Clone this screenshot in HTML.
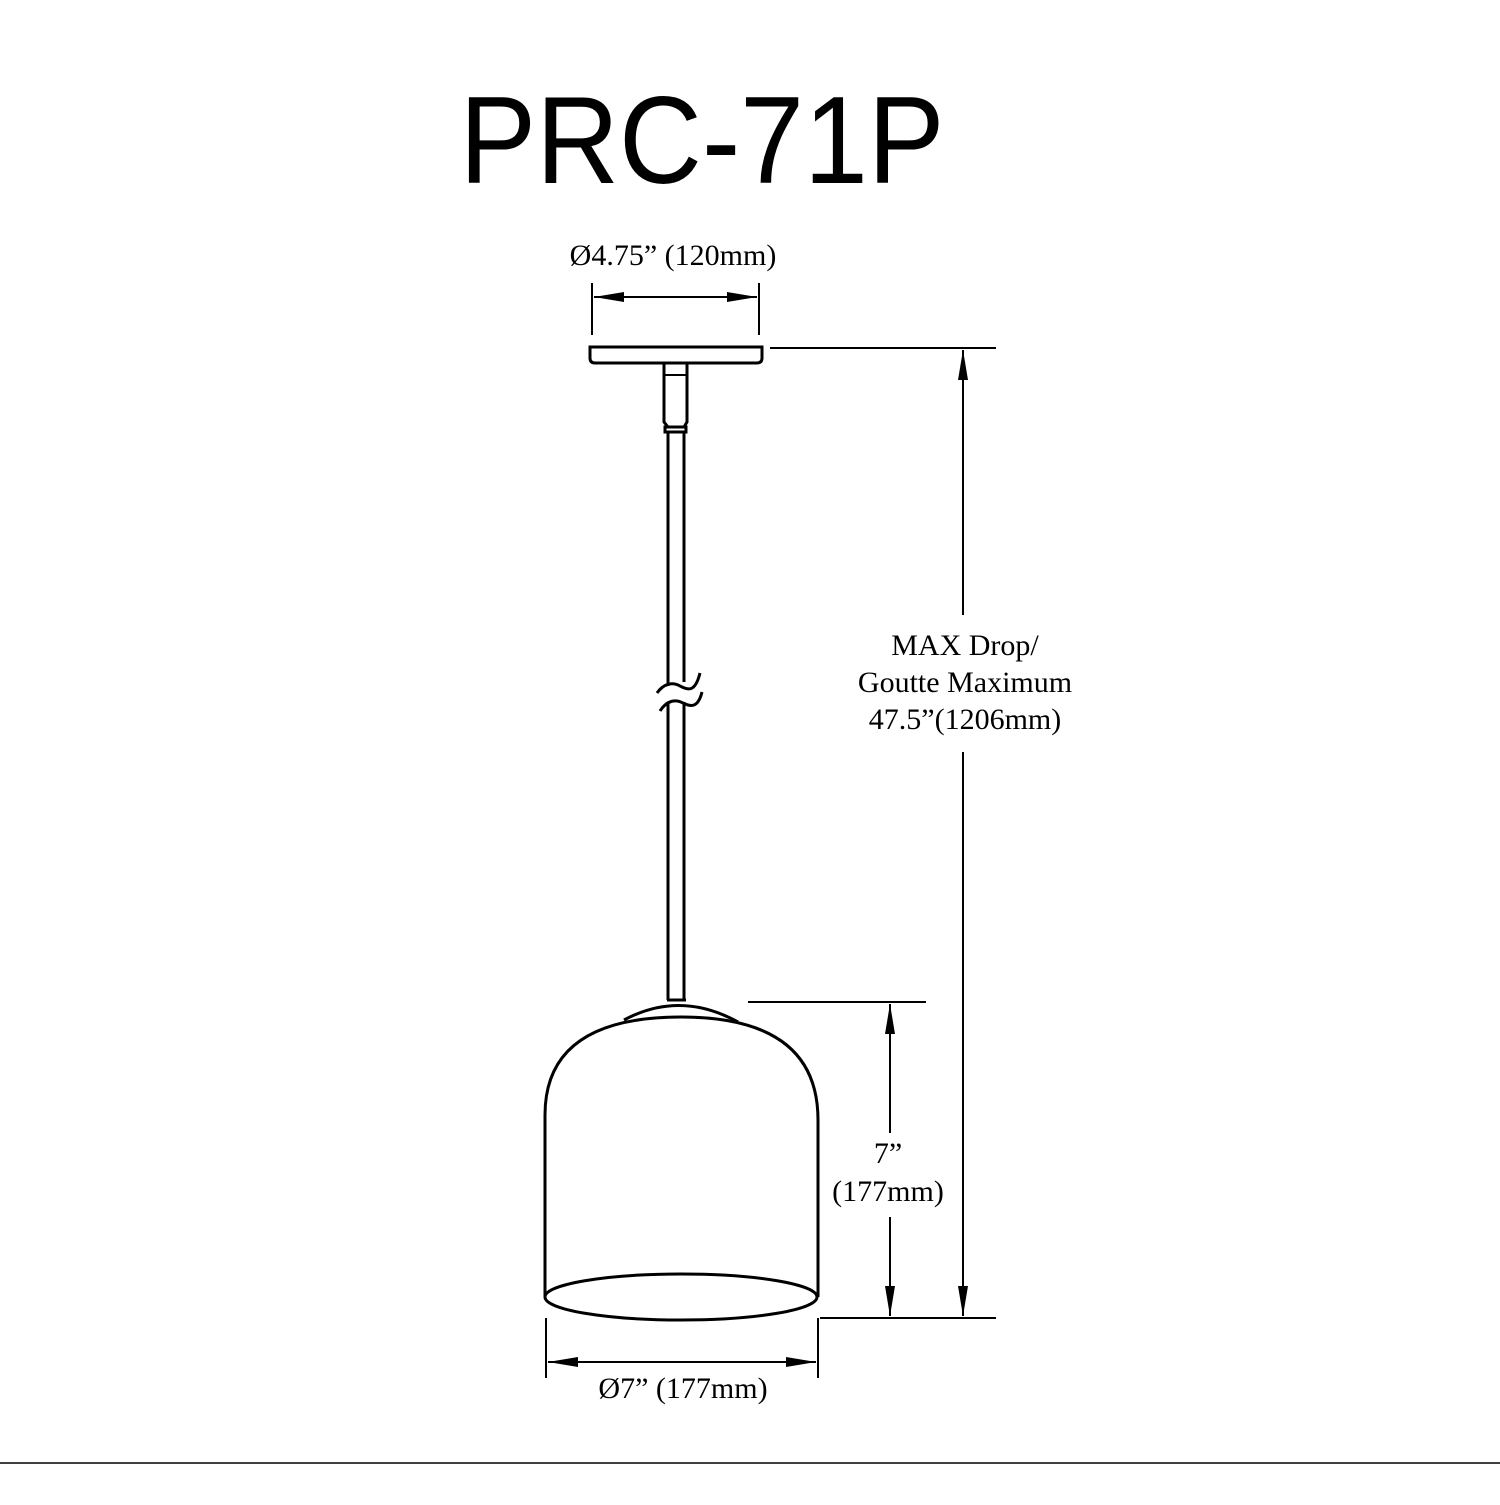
<!DOCTYPE html>
<html><head><meta charset="utf-8"><style>
html,body{margin:0;padding:0;background:#fff;}
</style></head><body>
<svg width="1500" height="1500" viewBox="0 0 1500 1500" xmlns="http://www.w3.org/2000/svg">
<defs>
<marker id="b" viewBox="0 0 30 10" refX="30" refY="5" markerWidth="30" markerHeight="10" markerUnits="userSpaceOnUse" orient="auto-start-reverse"><path d="M0,0 L30,5 L0,10 Z" fill="#000"/></marker>
</defs>
<text x="702" y="183" font-family="Liberation Sans, sans-serif" font-size="124" text-anchor="middle" textLength="485" lengthAdjust="spacingAndGlyphs">PRC-71P</text>
<g font-family="Liberation Serif, serif" font-size="30" text-anchor="middle">
<text x="673" y="265">Ø4.75” (120mm)</text>
<text x="965" y="655">MAX Drop/</text>
<text x="965" y="692">Goutte Maximum</text>
<text x="965" y="729">47.5”(1206mm)</text>
<text x="888" y="1163">7”</text>
<text x="888" y="1201">(177mm)</text>
<text x="683" y="1398">Ø7” (177mm)</text>
</g>
<g stroke="#000" stroke-width="2" fill="none">
<line x1="592" y1="283" x2="592" y2="335"/><line x1="759" y1="283" x2="759" y2="335"/>
<line x1="594" y1="297" x2="757" y2="297" marker-start="url(#b)" marker-end="url(#b)"/>
<line x1="770" y1="348" x2="996" y2="348"/>
<line x1="963" y1="350" x2="963" y2="615" marker-start="url(#b)"/>
<line x1="963" y1="752" x2="963" y2="1316" marker-end="url(#b)"/>
<line x1="820" y1="1318" x2="996" y2="1318"/>
<line x1="748" y1="1002" x2="926" y2="1002"/>
<line x1="890" y1="1004" x2="890" y2="1133" marker-start="url(#b)"/>
<line x1="890" y1="1217" x2="890" y2="1316" marker-end="url(#b)"/>
<line x1="546" y1="1318" x2="546" y2="1378"/><line x1="818" y1="1318" x2="818" y2="1378"/>
<line x1="548" y1="1362" x2="816" y2="1362" marker-start="url(#b)" marker-end="url(#b)"/>
<line x1="0" y1="1463" x2="1500" y2="1463" stroke-width="1.5"/>
</g>
<g stroke="#000" stroke-width="3" fill="none">
<path d="M590,347 H762 V358 Q762,363 757,363 H595 Q590,363 590,358 Z"/>
<path d="M664,363 V422 L668,427 H684 L687,422 V363"/>
<line x1="664" y1="375" x2="687" y2="375" stroke-width="2"/>
<rect x="665" y="427" width="21" height="5"/>
<line x1="668" y1="432" x2="668" y2="686"/><line x1="684" y1="432" x2="684" y2="682"/>
<path d="M657,693 C664,683 673,682 680,686 C688,690 695,693 700,673"/>
<path d="M660,711 C667,700 676,699 683,703 C691,707 698,708 702,692"/>
<line x1="668" y1="702" x2="668" y2="1000"/><line x1="684" y1="702" x2="684" y2="1000"/>
<path d="M667,1000 H686"/>
<path d="M624,1020 Q680,990 738,1022"/>
<path d="M545,1297 V1115 Q545,1017 681,1017 Q818,1017 818,1120 V1297"/>
<ellipse cx="681" cy="1297" rx="136" ry="23"/>
</g>
</svg>
</body></html>
